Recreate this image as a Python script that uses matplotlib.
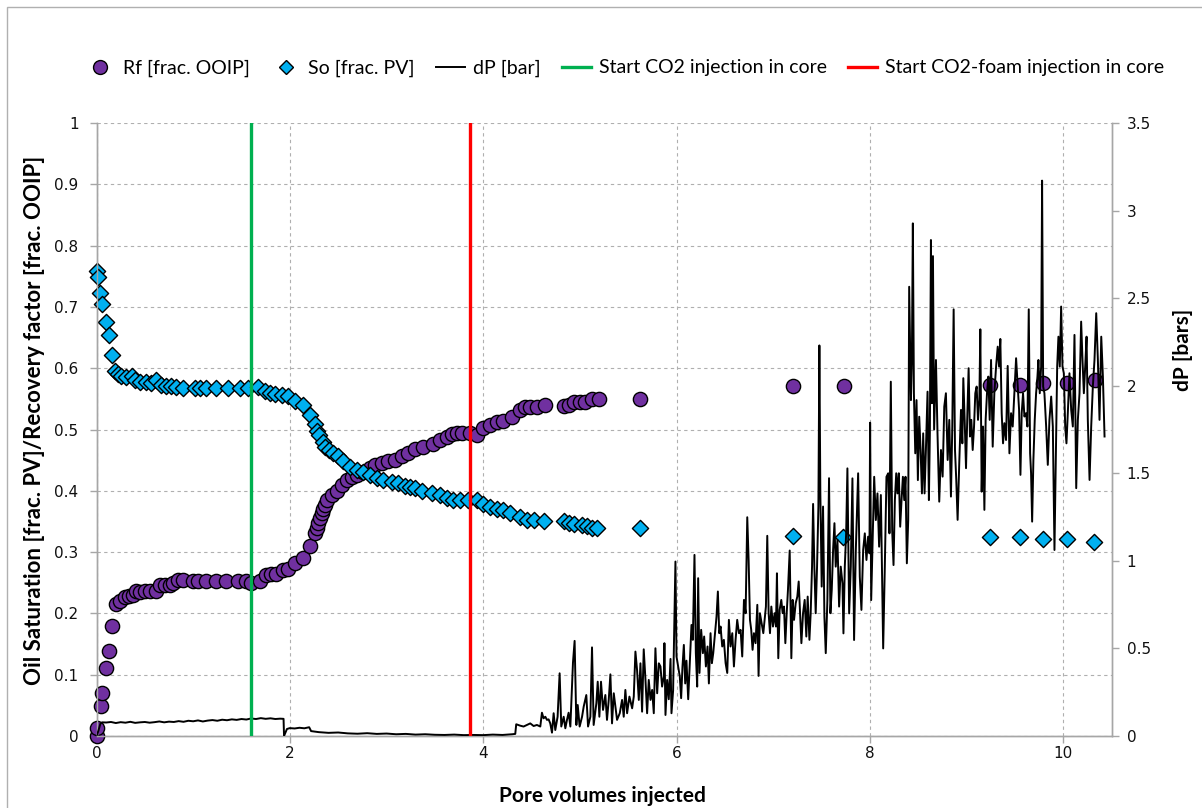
import numpy as np
import matplotlib
matplotlib.use("Agg")
import matplotlib.pyplot as plt
from matplotlib.lines import Line2D
from matplotlib.patches import Rectangle

# ---------------- data ----------------
rf_x = [0.00, 0.01, 0.05, 0.06, 0.10, 0.13, 0.16, 0.20, 0.245, 0.29, 0.34, 0.377, 0.411, 0.446, 0.497,
        0.549, 0.618, 0.653, 0.705, 0.756, 0.791, 0.843, 0.894, 0.998, 1.050, 1.136, 1.240, 1.344, 1.464,
        1.551, 1.603, 1.689, 1.758, 1.810, 1.862, 1.931, 1.982, 2.052, 2.138, 2.207, 2.259, 2.276, 2.293,
        2.311, 2.328, 2.345, 2.363, 2.380, 2.432, 2.484, 2.535, 2.587, 2.639, 2.691, 2.760, 2.829, 2.881,
        2.950, 3.019, 3.088, 3.157, 3.226, 3.295, 3.382, 3.485, 3.554, 3.624, 3.675, 3.727, 3.779, 3.865,
        3.935, 4.003, 4.073, 4.142, 4.210, 4.297, 4.383, 4.435, 4.487, 4.557, 4.642, 4.832, 4.884, 4.936,
        5.005, 5.057, 5.126, 5.195, 5.627, 7.209, 7.734, 9.247, 9.558, 9.793, 10.041, 10.325]
rf_y = [0.000, 0.013, 0.049, 0.070, 0.111, 0.138, 0.179, 0.216, 0.220, 0.226, 0.229, 0.230, 0.236, 0.235,
        0.236, 0.237, 0.237, 0.246, 0.247, 0.246, 0.250, 0.254, 0.254, 0.253, 0.253, 0.253, 0.253, 0.253,
        0.253, 0.253, 0.250, 0.253, 0.263, 0.264, 0.265, 0.270, 0.273, 0.282, 0.290, 0.310, 0.331, 0.339,
        0.347, 0.355, 0.363, 0.370, 0.377, 0.385, 0.393, 0.399, 0.409, 0.418, 0.423, 0.426, 0.431, 0.438,
        0.442, 0.446, 0.449, 0.451, 0.456, 0.462, 0.469, 0.472, 0.476, 0.483, 0.488, 0.493, 0.494, 0.494,
        0.494, 0.491, 0.502, 0.507, 0.513, 0.514, 0.520, 0.532, 0.536, 0.536, 0.536, 0.540, 0.538, 0.540,
        0.545, 0.545, 0.545, 0.550, 0.550, 0.550, 0.571, 0.571, 0.572, 0.572, 0.576, 0.576, 0.581]

so_x = [0.00, 0.014, 0.038, 0.059, 0.10, 0.128, 0.162, 0.187, 0.221, 0.256, 0.307, 0.37, 0.394, 0.446,
        0.515, 0.567, 0.618, 0.67, 0.722, 0.774, 0.826, 0.895, 1.016, 1.067, 1.137, 1.24, 1.361, 1.482,
        1.568, 1.672, 1.741, 1.793, 1.845, 1.914, 1.982, 2.052, 2.138, 2.207, 2.259, 2.276, 2.304, 2.345,
        2.363, 2.40, 2.449, 2.501, 2.552, 2.622, 2.691, 2.760, 2.829, 2.898, 2.967, 3.054, 3.122, 3.192,
        3.244, 3.295, 3.364, 3.468, 3.554, 3.624, 3.692, 3.762, 3.848, 3.935, 4.003, 4.073, 4.142, 4.210,
        4.280, 4.383, 4.453, 4.522, 4.625, 4.832, 4.884, 4.936, 5.022, 5.074, 5.126, 5.178, 5.620, 7.204,
        7.723, 9.244, 9.558, 9.789, 10.038, 10.318]
so_y = [0.759, 0.748, 0.722, 0.705, 0.675, 0.654, 0.622, 0.596, 0.591, 0.587, 0.585, 0.588, 0.581, 0.578,
        0.578, 0.576, 0.580, 0.573, 0.571, 0.571, 0.569, 0.567, 0.567, 0.567, 0.567, 0.567, 0.567, 0.567,
        0.567, 0.569, 0.563, 0.560, 0.558, 0.556, 0.554, 0.547, 0.540, 0.524, 0.509, 0.498, 0.491, 0.480,
        0.472, 0.466, 0.461, 0.456, 0.448, 0.439, 0.434, 0.431, 0.426, 0.421, 0.418, 0.415, 0.412, 0.408,
        0.407, 0.404, 0.400, 0.397, 0.393, 0.389, 0.385, 0.385, 0.385, 0.385, 0.378, 0.374, 0.370, 0.369,
        0.364, 0.357, 0.353, 0.353, 0.351, 0.351, 0.348, 0.346, 0.344, 0.342, 0.340, 0.340, 0.340, 0.326,
        0.325, 0.325, 0.325, 0.321, 0.321, 0.316]

# dP [bar], segment by segment
dp_x_1 = [0.00, 0.02, 0.04, 0.06, 0.10, 0.15, 0.20, 0.25, 0.30, 0.35, 0.40, 0.45, 0.50, 0.55, 0.60, 0.65,
          0.70, 0.75, 0.80, 0.85, 0.90, 0.95, 1.00, 1.05, 1.10, 1.15, 1.20, 1.25, 1.30, 1.35, 1.40, 1.45,
          1.50, 1.55, 1.60, 1.65, 1.70, 1.75, 1.80, 1.85, 1.90, 1.935, 1.94, 1.97, 2.00, 2.05, 2.10, 2.15,
          2.20, 2.22, 2.30, 2.40, 2.50, 2.60, 2.70, 2.80, 2.90, 3.00, 3.10, 3.20, 3.30, 3.40, 3.50, 3.60,
          3.70, 3.80, 3.90, 4.00, 4.10, 4.20, 4.30]
dp_y_1 = [0.00, 0.03, 0.07, 0.078, 0.077, 0.080, 0.074, 0.079, 0.076, 0.081, 0.075, 0.078, 0.080, 0.076,
          0.079, 0.083, 0.078, 0.082, 0.080, 0.085, 0.081, 0.087, 0.084, 0.089, 0.083, 0.088, 0.091, 0.087,
          0.093, 0.090, 0.095, 0.092, 0.097, 0.094, 0.100, 0.097, 0.102, 0.098, 0.101, 0.097, 0.099, 0.098,
          0.0, 0.040, 0.045, 0.043, 0.047, 0.044, 0.050, 0.028, 0.022, 0.018, 0.020, 0.015, 0.013, 0.016,
          0.012, 0.014, 0.010, 0.012, 0.008, 0.010, 0.007, 0.006, 0.008, 0.005, 0.006, 0.005, 0.008, 0.006,
          0.010]

dp_x_2 = [4.332, 4.342, 4.383, 4.418, 4.453, 4.487, 4.522, 4.556, 4.591, 4.608,
          4.625, 4.643, 4.660, 4.677, 4.694, 4.712, 4.729, 4.746, 4.770, 4.791,
          4.808, 4.833, 4.850, 4.867, 4.884, 4.902, 4.929, 4.946, 4.964, 4.978,
          4.998, 5.023, 5.040, 5.067, 5.085, 5.109, 5.126, 5.143, 5.171, 5.185,
          5.202, 5.219, 5.240, 5.264, 5.281, 5.299, 5.316, 5.333, 5.351, 5.385,
          5.413, 5.437, 5.454, 5.471, 5.489, 5.513, 5.541, 5.558, 5.575, 5.592,
          5.610, 5.627, 5.644, 5.661, 5.679, 5.696, 5.713, 5.731, 5.748, 5.765,
          5.782, 5.800, 5.817, 5.834]
dp_y_2 = [0.012, 0.067, 0.059, 0.054, 0.063, 0.072, 0.057, 0.063, 0.054, 0.133,
          0.101, 0.110, 0.092, 0.095, 0.072, 0.019, 0.130, 0.034, 0.110, 0.358,
          0.054, 0.110, 0.044, 0.092, 0.133, 0.054, 0.419, 0.543, 0.063, 0.177,
          0.054, 0.110, 0.168, 0.234, 0.054, 0.110, 0.506, 0.063, 0.187, 0.310,
          0.110, 0.310, 0.149, 0.234, 0.092, 0.206, 0.352, 0.072, 0.244, 0.092,
          0.130, 0.206, 0.110, 0.263, 0.130, 0.225, 0.158, 0.225, 0.482, 0.377,
          0.206, 0.415, 0.139, 0.495, 0.320, 0.130, 0.320, 0.206, 0.263, 0.130,
          0.501, 0.244, 0.415, 0.397]

dp_x_3 = [5.851, 5.869, 5.875, 5.886, 5.903, 5.920, 5.938, 5.948, 5.965, 5.989,
          6.000, 6.017, 6.034, 6.048, 6.062, 6.076, 6.090, 6.103, 6.121, 6.138,
          6.155, 6.169, 6.186, 6.200, 6.214, 6.224, 6.238, 6.255, 6.273, 6.286,
          6.304, 6.321, 6.335, 6.352, 6.366, 6.380, 6.397, 6.414, 6.428, 6.442,
          6.456, 6.473, 6.490, 6.508, 6.525, 6.542, 6.559, 6.577, 6.594, 6.611,
          6.628, 6.646, 6.663, 6.680, 6.698, 6.715, 6.732, 6.746, 6.760, 6.773,
          6.787, 6.801, 6.818, 6.836, 6.849, 6.863, 6.881, 6.898, 6.915, 6.925,
          6.939, 6.953, 6.967, 6.981, 6.998, 7.015, 7.029, 7.039, 7.053, 7.067,
          7.084, 7.098, 7.112, 7.126, 7.140, 7.153, 7.171, 7.188, 7.202, 7.216,
          7.233, 7.250, 7.264, 7.278, 7.292, 7.309, 7.326, 7.343, 7.357, 7.375,
          7.388, 7.402, 7.413, 7.426, 7.440, 7.454, 7.468, 7.478, 7.488, 7.502,
          7.516, 7.530, 7.544, 7.561, 7.578, 7.592, 7.606, 7.620, 7.634, 7.647,
          7.665, 7.682, 7.699]
dp_y_3 = [0.282, 0.340, 0.530, 0.120, 0.320, 0.210, 0.440, 0.130, 0.260, 0.996,
          0.454, 0.397, 0.340, 0.216, 0.397, 0.520, 0.300, 0.430, 0.210, 0.416,
          0.634, 0.549, 1.034, 0.473, 0.282, 0.901, 0.360, 0.606, 0.473, 0.568,
          0.397, 0.511, 0.300, 0.587, 0.416, 0.473, 0.577, 0.682, 0.825, 0.587,
          0.625, 0.511, 0.549, 0.416, 0.360, 0.663, 0.511, 0.587, 0.397, 0.549,
          0.663, 0.587, 0.606, 0.454, 0.777, 0.701, 1.249, 1.006, 0.663, 0.606,
          0.492, 0.587, 0.530, 0.749, 0.343, 0.701, 0.644, 0.587, 0.682, 0.739,
          1.143, 0.701, 0.587, 0.739, 0.625, 0.701, 0.625, 0.929, 0.444, 0.720,
          0.777, 0.701, 0.739, 0.530, 0.701, 0.834, 1.059, 0.444, 0.777, 0.663,
          0.758, 0.796, 0.882, 0.701, 0.530, 0.701, 0.777, 0.568, 0.796, 0.549,
          0.701, 0.967, 1.325, 0.967, 0.701, 0.967, 1.310, 2.230, 1.386, 0.853,
          1.310, 0.682, 0.473, 0.777, 1.472, 0.701, 0.834, 1.063, 1.215, 0.967,
          1.120, 0.739, 0.967]

dp_x_4 = [7.717, 7.727, 7.741, 7.755, 7.768, 7.786, 7.803, 7.820, 7.837, 7.855,
          7.879, 7.896, 7.913, 7.931, 7.948, 7.965, 7.982, 7.996, 8.003, 8.014,
          8.027, 8.045, 8.062, 8.079, 8.096, 8.114, 8.128, 8.138, 8.155, 8.172,
          8.190, 8.203, 8.217, 8.231, 8.245, 8.259, 8.273, 8.286, 8.300, 8.314,
          8.328, 8.342, 8.356, 8.369, 8.383, 8.397, 8.407, 8.425, 8.435, 8.445,
          8.456, 8.470, 8.483, 8.497, 8.511, 8.525, 8.539, 8.552, 8.566, 8.580,
          8.597, 8.611, 8.621, 8.632, 8.642, 8.653, 8.665, 8.684, 8.700]
dp_y_4 = [0.872, 0.586, 0.967, 1.157, 1.528, 0.700, 0.967, 1.471, 0.548, 1.062,
          1.500, 0.910, 0.720, 1.062, 1.157, 1.005, 1.138, 1.043, 1.789, 0.776,
          1.062, 1.480, 1.233, 1.385, 1.081, 1.376, 0.872, 0.500, 0.967, 1.480,
          1.500, 1.157, 2.023, 1.176, 0.976, 1.347, 1.500, 1.385, 1.500, 1.195,
          1.347, 1.480, 1.347, 1.480, 0.986, 1.233, 2.565, 1.918, 2.147, 2.927,
          1.956, 1.614, 1.918, 1.461, 1.823, 1.633, 1.385, 1.728, 1.385, 1.633,
          1.966, 1.347, 1.728, 2.832, 1.900, 2.740, 1.750, 2.147, 1.728]

dp_x_5 = [8.718, 8.736, 8.753, 8.770, 8.787, 8.805, 8.822, 8.839, 8.853, 8.867,
          8.881, 8.894, 8.908, 8.926, 8.943, 8.957, 8.967, 8.981, 8.995, 9.009,
          9.022, 9.036, 9.050, 9.064, 9.078, 9.091, 9.105, 9.119, 9.133, 9.143,
          9.157, 9.171, 9.185, 9.198, 9.212, 9.226, 9.240, 9.254, 9.271, 9.288,
          9.306, 9.323, 9.337, 9.350, 9.364, 9.378, 9.392, 9.409, 9.426, 9.444,
          9.461, 9.478, 9.495, 9.513, 9.530, 9.544, 9.558, 9.571, 9.585, 9.599,
          9.616, 9.630, 9.644, 9.658, 9.668, 9.679, 9.692, 9.706, 9.720, 9.734,
          9.744, 9.758, 9.772, 9.782, 9.793, 9.806, 9.824, 9.841, 9.858, 9.876,
          9.893, 9.910, 9.924, 9.938, 9.951, 9.965, 9.979, 9.993, 10.007, 10.021,
          10.034, 10.048, 10.065, 10.083, 10.100, 10.117, 10.135, 10.152, 10.169, 10.186,
          10.200, 10.214, 10.228, 10.242, 10.255, 10.273, 10.290, 10.307, 10.324, 10.342,
          10.359, 10.376, 10.394, 10.411, 10.428]
dp_y_5 = [1.338, 1.633, 1.481, 1.881, 1.957, 1.576, 1.805, 1.367, 1.767, 2.436,
          1.633, 1.462, 1.234, 1.576, 1.862, 1.671, 2.043, 1.805, 1.529, 1.843,
          2.100, 1.710, 1.805, 1.633, 1.767, 1.957, 1.995, 1.805, 1.919, 2.322,
          1.395, 1.767, 1.291, 1.805, 1.957, 2.052, 1.805, 2.147, 1.652, 1.957,
          2.109, 2.223, 2.109, 2.267, 1.843, 1.671, 1.786, 1.690, 2.113, 1.614,
          1.843, 1.767, 1.957, 2.157, 1.995, 1.862, 1.491, 1.843, 1.957, 1.824,
          1.843, 1.767, 2.436, 1.614, 1.500, 1.224, 1.576, 1.805, 1.957, 2.052,
          2.147, 1.957, 2.109, 3.171, 1.995, 1.957, 1.767, 1.548, 1.805, 1.938,
          1.767, 1.062, 1.576, 2.109, 2.280, 2.109, 2.452, 2.109, 2.071, 1.767,
          1.671, 1.843, 2.071, 1.862, 1.767, 2.290, 1.415, 1.805, 1.957, 2.366,
          2.147, 1.957, 2.109, 2.280, 1.805, 1.462, 1.767, 1.995, 2.147, 2.414,
          2.147, 1.805, 2.280, 2.052, 1.710]

dp_x = dp_x_1 + dp_x_2 + dp_x_3 + dp_x_4 + dp_x_5
dp_y = dp_y_1 + dp_y_2 + dp_y_3 + dp_y_4 + dp_y_5

co2_start = 1.595
foam_start = 3.86

left_ticks = [0, 0.1, 0.2, 0.3, 0.4, 0.5, 0.6, 0.7, 0.8, 0.9, 1.0]
left_labels = ["0", "0.1", "0.2", "0.3", "0.4", "0.5", "0.6", "0.7", "0.8", "0.9", "1"]
right_ticks = [0, 0.5, 1.0, 1.5, 2.0, 2.5, 3.0, 3.5]
right_labels = ["0", "0.5", "1", "1.5", "2", "2.5", "3", "3.5"]
x_ticks = [0, 2, 4, 6, 8, 10]

# ---------------- figure ----------------
W, H = 1202, 808
fig = plt.figure(figsize=(W / 100, H / 100), dpi=100)
L, R, T, B = 96.5, 1111.5, 123, 736
ax = fig.add_axes([L / W, 1 - B / H, (R - L) / W, (B - T) / H])
ax2 = ax.twinx()

PURPLE = "#7030A0"
CYAN = "#00B0F0"
GREEN = "#00B050"
RED = "#FF0000"
SPINE = "#A6A6A6"
narrow = ["Lato", "DejaVu Sans"]

ax.set_xlim(0, 10.5)
ax.set_ylim(0, 1)
ax2.set_ylim(0, 3.5)

ax.scatter(rf_x, rf_y, s=105, marker="o", facecolor=PURPLE, edgecolor="black",
           linewidth=1.0, zorder=3, clip_on=False)
ax.scatter(so_x, so_y, s=68, marker="D", facecolor=CYAN, edgecolor="black",
           linewidth=1.0, zorder=3, clip_on=False)

ax2.plot(dp_x, dp_y, color="black", linewidth=1.4, zorder=3)
ax2.axvline(co2_start, color=GREEN, linewidth=2.4, zorder=4)
ax2.axvline(foam_start, color=RED, linewidth=2.4, zorder=4)

ax.set_xticks(x_ticks)
ax.set_xticklabels([str(t) for t in x_ticks])
ax.set_yticks(left_ticks)
ax.set_yticklabels(left_labels)
ax2.set_yticks(right_ticks)
ax2.set_yticklabels(right_labels)

ax.grid(True, which="major", axis="both", color="#AFAFAF", linestyle=(0, (3, 3)), linewidth=0.8)
ax.set_axisbelow(True)

for a in (ax, ax2):
    a.spines["top"].set_visible(False)
    for s in ("left", "right", "bottom"):
        a.spines[s].set_color(SPINE)
        a.spines[s].set_linewidth(1.0)
ax.tick_params(axis="both", direction="out", length=5, width=1, color=SPINE,
               labelsize=11, labelcolor="#111111")
ax.tick_params(axis="y", pad=8)
ax.tick_params(axis="x", pad=2)
ax2.tick_params(axis="y", direction="out", length=5, width=1, color=SPINE,
                labelsize=11, labelcolor="#111111", pad=6)

fig.text(35 / W, 1 - 420 / H, "Oil Saturation [frac. PV]/Recovery factor [frac. OOIP]",
         rotation=90, ha="center", va="center", fontsize=16, fontweight="bold", family=narrow)
fig.text(1183 / W, 1 - 350 / H, "dP [bars]", rotation=90, ha="center", va="center",
         fontsize=15, fontweight="bold", family=narrow)
fig.text(602 / W, 1 - 796 / H, "Pore volumes injected", ha="center", va="center",
         fontsize=15, fontweight="bold", family=narrow)

handles = [
    Line2D([], [], linestyle="none", marker="o", markersize=10, markerfacecolor=PURPLE,
           markeredgecolor="black"),
    Line2D([], [], linestyle="none", marker="D", markersize=7.5, markerfacecolor=CYAN,
           markeredgecolor="black"),
    Line2D([], [], color="black", linewidth=1.4),
    Line2D([], [], color=GREEN, linewidth=2.4),
    Line2D([], [], color=RED, linewidth=2.4),
]
labels = ["Rf [frac. OOIP]", "So [frac. PV]", "dP [bar]", "Start CO2 injection in core",
          "Start CO2-foam injection in core"]
fig.legend(handles, labels, loc="center", bbox_to_anchor=(625 / W, 1 - 68 / H), ncol=5,
           frameon=False, prop={"family": narrow, "size": 14}, handlelength=1.5,
           handletextpad=0.4, columnspacing=1.1)

fig.patches.append(Rectangle((7 / W, -0.1), 1.2, (1 - 7 / H) + 0.1, transform=fig.transFigure,
                             fill=False, edgecolor="#B0B0B0", linewidth=1.0))

fig.savefig("out.png", dpi=100)
